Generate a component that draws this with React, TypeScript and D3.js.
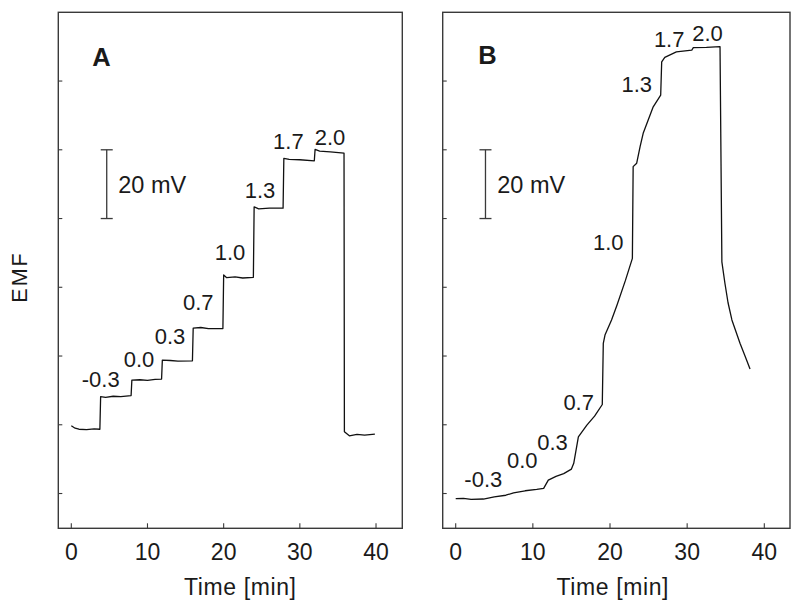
import React from "react";
import * as d3 from "d3";

// ---------- data ----------
const xTicks = [0, 10, 20, 30, 40];
const yTicks = [0, 20, 40, 60, 80, 100, 120];
const concLabels = ["-0.3", "0.0", "0.3", "0.7", "1.0", "1.3", "1.7", "2.0"];

// Panel A trace: time [min], EMF [mV, relative]
const traceATime = [0, 0.5, 1, 2, 3, 3.75, 3.85, 4.5, 5.5, 6.5, 7.85, 7.95, 9, 10, 11, 11.85, 11.95, 13, 14, 15.9, 16.0, 17, 18, 19.9, 20.0, 20.4, 21.5, 22.5, 23.9, 24.0, 24.6, 26, 27.8, 27.9, 28.6, 30, 31.9, 32.0, 32.6, 34, 35.8, 35.85, 36.5, 37.5, 38.5, 39.85];
const traceAEmf = [19.7, 19.0, 18.7, 18.6, 18.8, 18.7, 28.2, 28.0, 28.3, 28.2, 28.5, 33.0, 33.1, 32.9, 33.2, 33.3, 38.8, 38.7, 38.5, 38.6, 48.1, 48.3, 48.0, 48.0, 63.6, 62.8, 63.0, 62.7, 62.9, 83.4, 82.8, 83.0, 83.0, 97.5, 97.2, 97.1, 96.8, 100.1, 99.6, 99.4, 99.0, 18.0, 16.8, 17.2, 17.0, 17.3];

// Panel B trace
const traceBTime = [0, 1, 2, 3.6, 5, 6.5, 7.5, 9, 10.5, 11.4, 12.0, 13, 14, 15.0, 15.3, 15.9, 17.0, 18, 19.0, 19.13, 19.35, 20.2, 20.9, 22, 22.9, 23.0, 23.46, 23.9, 24.3, 25.6, 26.57, 26.7, 27.1, 28.6, 30.6, 30.8, 32.5, 34.26, 34.5, 34.9, 35.3, 35.8, 36.85, 37.5, 38.15];
const traceBEmf = [-1.5, -1.4, -1.7, -1.6, -1.0, -0.5, 0.2, 0.8, 1.2, 1.5, 3.9, 5.0, 5.8, 7.1, 8.8, 16.5, 19.9, 22.5, 25.9, 43.7, 46.1, 50.5, 54.8, 62.0, 68.4, 95.1, 96.1, 100.9, 104.8, 112.5, 115.9, 125.6, 126.9, 128.5, 129.0, 129.7, 129.8, 130.0, 67.4, 61.1, 55.5, 50.5, 43.7, 40.0, 36.2];

// Label anchors (data units)
const labelATime = [3.86, 8.89, 12.96, 16.67, 20.83, 24.77, 28.49, 33.96];
const labelAEmf = [30.9, 36.9, 43.4, 53.4, 67.9, 85.9, 100.1, 101.4];
const labelBTime = [3.58, 8.63, 12.55, 15.94, 19.77, 23.46, 27.67, 32.64];
const labelBEmf = [2.0, 7.3, 12.7, 24.3, 70.8, 116.9, 129.9, 131.7];

const FONT = "'Liberation Sans', Arial, Helvetica, sans-serif";
const INK = "#1a1a1a";
const FRAME = "#3a3a3a";

type PanelProps = {
  letter: string;
  left: number;
  right: number;
  xDomain: [number, number];
  times: number[];
  emf: number[];
  labT: number[];
  labV: number[];
  barT: number;
  barTextX: number;
  letterX: number;
  letterY: number;
  titleX: number;
};

const top = 12.3;
const bottom = 528.3;

function Panel(p: PanelProps) {
  const x = d3.scaleLinear().domain(p.xDomain).range([p.left, p.right]);
  const y = d3.scaleLinear().domain([-10.12, 140]).range([bottom, top]);
  const pts: [number, number][] = p.times.map((t, i) => [t, p.emf[i]]);
  const line = d3
    .line<[number, number]>()
    .x((d) => x(d[0]))
    .y((d) => y(d[1]));
  const bx = x(p.barT);
  return (
    <g>
      <rect
        x={p.left}
        y={top}
        width={p.right - p.left}
        height={bottom - top}
        fill="none"
        stroke={FRAME}
        strokeWidth={1.4}
      />
      {yTicks.map((v) => (
        <line key={"y" + v} x1={p.left} x2={p.left + 4} y1={y(v)} y2={y(v)} stroke={FRAME} strokeWidth={1.1} />
      ))}
      {xTicks.map((t) => (
        <g key={"x" + t}>
          <line x1={x(t)} x2={x(t)} y1={bottom} y2={bottom - 5} stroke={FRAME} strokeWidth={1.1} />
          <text x={x(t)} y={559.5} textAnchor="middle" fontSize={23} fontFamily={FONT} fill={INK}>
            {t}
          </text>
        </g>
      ))}
      <text
        x={p.titleX + 0.3}
        y={595}
        textAnchor="middle"
        fontSize={23}
        letterSpacing={0.6}
        fontFamily={FONT}
        fill={INK}
      >
        Time [min]
      </text>
      <path d={line(pts) || ""} fill="none" stroke="#111" strokeWidth={1.3} strokeLinejoin="round" />
      {concLabels.map((s, i) => (
        <text
          key={s}
          x={x(p.labT[i])}
          y={y(p.labV[i])}
          textAnchor="middle"
          fontSize={22}
          fontFamily={FONT}
          fill={INK}
        >
          {s}
        </text>
      ))}
      {/* 20 mV scale bar */}
      <line x1={bx} x2={bx} y1={y(80)} y2={y(100)} stroke={FRAME} strokeWidth={1.3} />
      <line x1={bx - 6} x2={bx + 6} y1={y(100)} y2={y(100)} stroke={FRAME} strokeWidth={1.3} />
      <line x1={bx - 6} x2={bx + 6} y1={y(80)} y2={y(80)} stroke={FRAME} strokeWidth={1.3} />
      <text x={p.barTextX} y={192.5} fontSize={23.5} fontFamily={FONT} fill={INK}>
        20 mV
      </text>
      <text
        x={p.letterX}
        y={p.letterY}
        textAnchor="middle"
        fontSize={25.5}
        fontWeight="bold"
        fontFamily={FONT}
        fill={INK}
      >
        {p.letter}
      </text>
    </g>
  );
}

export default function App() {
  return (
    <svg
      width={800}
      height={609}
      viewBox="0 0 800 609"
      style={{ position: "absolute", left: 0, top: 0, background: "#fff" }}
    >
      <rect x={0} y={0} width={800} height={609} fill="#fff" />
      <Panel
        letter="A"
        left={58.3}
        right={402.3}
        xDomain={[-1.707, 43.45]}
        times={traceATime}
        emf={traceAEmf}
        labT={labelATime}
        labV={labelAEmf}
        barT={4.65}
        barTextX={118.3}
        letterX={101.4}
        letterY={65.7}
        titleX={240}
      />
      <Panel
        letter="B"
        left={442.7}
        right={790}
        xDomain={[-1.685, 43.33]}
        times={traceBTime}
        emf={traceBEmf}
        labT={labelBTime}
        labV={labelBEmf}
        barT={3.86}
        barTextX={497.3}
        letterX={487.5}
        letterY={63.5}
        titleX={612.5}
      />
      <text
        transform="translate(26.5,277) rotate(-90)"
        textAnchor="middle"
        fontSize={21.5}
        letterSpacing={2}
        fontFamily={FONT}
        fill={INK}
      >
        EMF
      </text>
    </svg>
  );
}
